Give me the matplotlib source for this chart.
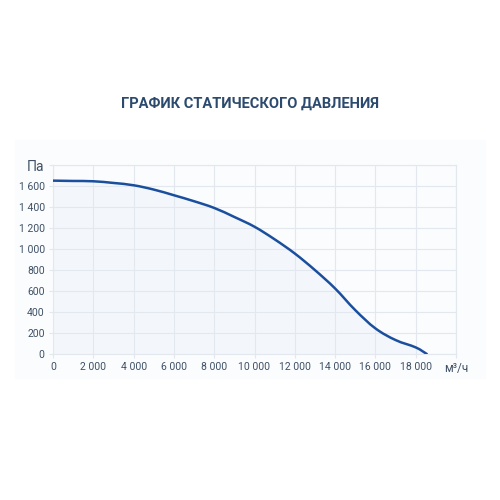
import numpy as np
import matplotlib.pyplot as plt
from matplotlib.patches import Rectangle, PathPatch
from matplotlib.path import Path

# static pressure curve
flow = [0, 1000, 2000, 3000, 4000, 5000, 6000, 7000, 8000, 9000, 10000, 11000,
        12000, 13000, 14000, 15000, 16000, 17000, 18000, 18550]
pressure = [1651, 1648, 1645, 1629, 1607, 1566, 1512, 1455, 1391, 1305, 1212, 1092,
            957, 799, 624, 418, 244, 133, 63, 0]

x_ticks = [0, 2000, 4000, 6000, 8000, 10000, 12000, 14000, 16000, 18000, 20000]
y_ticks = [0, 200, 400, 600, 800, 1000, 1200, 1400, 1600, 1800]

def fmt(v):
  return f"{v:,}".replace(",", " ")

x_labels = [fmt(v) for v in x_ticks[:-1]] + ["м³/ч"]
y_labels = [fmt(v) for v in y_ticks[:-1]] + ["Па"]

line_col = "#1a4f9e"
text_col = "#3f5166"
grid_col = "#e3e7ee"

# smooth bezier path through the points (like a chart tension setting)
def smooth_path(xs, ys, t=0.35):
  pts = np.column_stack([xs, ys]).astype(float)
  verts = [pts[0]]
  codes = [Path.MOVETO]
  n = len(pts)
  for i in range(n - 1):
    p0 = pts[max(i - 1, 0)]
    p1 = pts[i]
    p2 = pts[i + 1]
    p3 = pts[min(i + 2, n - 1)]
    c1 = p1 + (p2 - p0) * t / 2
    c2 = p2 - (p3 - p1) * t / 2
    verts += [c1, c2, p2]
    codes += [Path.CURVE4] * 3
  return verts, codes

fig = plt.figure(figsize=(5, 5), dpi=100)
fig.patches.append(Rectangle((0.03, 0.245), 0.94, 0.475, transform=fig.transFigure,
                             color="#fbfcfd", zorder=-10))

fig.text(0.5, 0.792, "ГРАФИК СТАТИЧЕСКОГО ДАВЛЕНИЯ", ha="center", va="center",
         fontsize=10.5, fontweight="bold", color="#2c4a6e", family="Roboto")

ax = fig.add_axes([0.106, 0.292, 0.806, 0.378])
ax.set_facecolor("none")

verts, codes = smooth_path(flow, pressure)
fill_verts = verts + [(flow[-1], 0), (flow[0], 0), verts[0]]
fill_codes = codes + [Path.LINETO, Path.LINETO, Path.CLOSEPOLY]
ax.add_patch(PathPatch(Path(fill_verts, fill_codes), facecolor="#f3f6fb",
                       edgecolor="none", zorder=1))
ax.add_patch(PathPatch(Path(verts, codes), facecolor="none", edgecolor=line_col,
                       lw=1.8, zorder=3, capstyle="round", joinstyle="round"))

ax.set_xlim(0, 20000)
ax.set_ylim(0, 1800)
ax.set_xticks(x_ticks)
ax.set_xticklabels(x_labels)
ax.set_yticks(y_ticks)
ax.set_yticklabels(y_labels)

ax.grid(True, color=grid_col, lw=0.8, zorder=0)
for s in ax.spines.values():
  s.set_color(grid_col)
  s.set_linewidth(0.8)
ax.tick_params(length=3, color=grid_col, labelcolor=text_col, labelsize=7.5, pad=3)
for lab in ax.get_xticklabels() + ax.get_yticklabels():
  lab.set_family("Roboto")
ax.get_yticklabels()[-1].set_fontsize(10)
ax.get_xticklabels()[-1].set_fontsize(8.5)

fig.savefig("out.png", dpi=100)
